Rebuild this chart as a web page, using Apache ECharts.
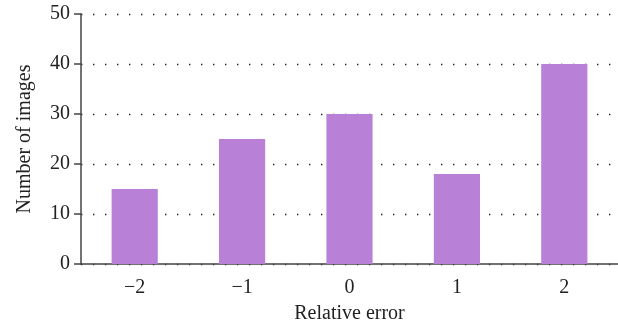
<!DOCTYPE html>
<html><head><meta charset="utf-8">
<script src="https://cdn.jsdelivr.net/npm/echarts@6/dist/echarts.min.js"></script>
<style>html,body{margin:0;padding:0;background:#fff}#c{width:618px;height:323px}</style>
</head><body><div id="c"></div>
<script>
const categories = ['\u22122', '\u22121', '0', '1', '2'];
const counts = [15, 25, 30, 18, 40];
const yTicks = [0, 10, 20, 30, 40, 50];

const font = '"Liberation Serif", "DejaVu Serif", serif';
const chart = echarts.init(document.getElementById('c'), null, {renderer: 'canvas'});
chart.setOption({
  animation: false,
  grid: {left: 81, right: 0, top: 14, bottom: 59, containLabel: false, outerBoundsMode: 'none'},
  xAxis: {
    type: 'category', data: categories,
    name: 'Relative error', nameLocation: 'middle', nameGap: 40,
    nameTextStyle: {fontFamily: font, fontSize: 20, color: '#222'},
    axisLine: {lineStyle: {color: '#444', width: 1.5}},
    axisTick: {alignWithLabel: true, length: 7, lineStyle: {color: '#444', width: 1.5}},
    axisLabel: {fontFamily: font, fontSize: 20, color: '#222', margin: 14},
    splitLine: {show: false}
  },
  yAxis: {
    type: 'value', min: yTicks[0], max: yTicks[yTicks.length - 1], interval: 10,
    name: 'Number of images', nameLocation: 'middle', nameGap: 46,
    nameTextStyle: {fontFamily: font, fontSize: 20, color: '#222'},
    axisLine: {show: true, lineStyle: {color: '#444', width: 1.5}},
    axisTick: {show: true, length: 7, lineStyle: {color: '#444', width: 1.5}},
    axisLabel: {fontFamily: font, fontSize: 20, color: '#222', margin: 11},
    splitLine: {show: true, lineStyle: {color: '#222', width: 1.4, type: [1.4, 10.6]}}
  },
  series: [{
    type: 'bar', data: counts, barWidth: '43%',
    itemStyle: {color: '#b880d6'}
  }]
});
</script></body></html>
